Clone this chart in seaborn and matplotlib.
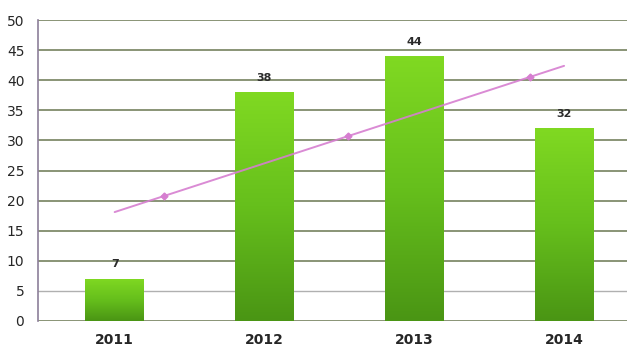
import numpy as np
import pandas as pd
import seaborn as sns
from matplotlib import pyplot as plt
from matplotlib.colors import LinearSegmentedColormap

years = ["2011", "2012", "2013", "2014"]
values = [7, 38, 44, 32]
value_labels = ["7", "38", "44", "32"]

# trend line
trend_x = [0, 3]
trend_y = [18.1, 42.4]
marker_x = [0.33, 1.56, 2.77]
marker_y = [20.8, 30.7, 40.5]

yticks = list(range(0, 55, 5))

table = pd.DataFrame({"anno": years, "valore": values})

sns.set_style("white")
plt.rcParams['font.family'] = ['DejaVu Sans']

fig = plt.figure(figsize=(6.27, 3.47), dpi=100)
ax = fig.add_axes([0.061, 0.075, 0.939, 0.867])

sns.barplot(data=table, x="anno", y="valore", width=0.39, color="#5cb51a", ax=ax, zorder=2)

# gradiente dentro le barre
cmap = LinearSegmentedColormap.from_list("verde", ["#4a9514", "#66bf1c", "#80d922"])
grad = np.linspace(0, 1, 256).reshape(-1, 1)
for bar in ax.patches:
    x0, y0 = bar.get_x(), bar.get_y()
    w, h = bar.get_width(), bar.get_height()
    im = ax.imshow(grad, cmap=cmap, aspect="auto", origin="lower",
                   extent=(x0, x0 + w, y0, y0 + h), zorder=2)
    im.set_clip_path(bar)
    bar.set_alpha(0)

for i, v in enumerate(values):
    ax.text(i, v + 1.6, value_labels[i], ha="center", va="bottom",
            fontsize=8, fontweight="bold", color="#2b2b2b", zorder=4)

# griglia
for t in yticks:
    if t == 5:
        ax.axhline(t, color="#b0b0b0", lw=1.0, zorder=1)
    else:
        ax.axhline(t, color="#75825f", lw=1.2, zorder=1)

ax.plot(trend_x, trend_y, color="#d67ed0", lw=1.4, alpha=0.9, zorder=3)
ax.plot(marker_x, marker_y, ls="none", marker="D", ms=3.5, color="#d67ed0", zorder=3)

ax.set_xlim(-0.51, 3.42)
ax.set_ylim(0, 50)
ax.set_yticks(yticks)
ax.set_xlabel("")
ax.set_ylabel("")
ax.tick_params(axis="y", labelsize=10, length=4, color="#8c7f99", pad=6)
ax.tick_params(axis="x", labelsize=10, length=0, pad=9)
for lab in ax.get_xticklabels():
    lab.set_fontweight("bold")

for s in ["top", "right", "bottom"]:
    ax.spines[s].set_visible(False)
ax.spines["left"].set_color("#8c7f99")
ax.spines["left"].set_linewidth(1.2)

plt.savefig("out.png", dpi=100)
